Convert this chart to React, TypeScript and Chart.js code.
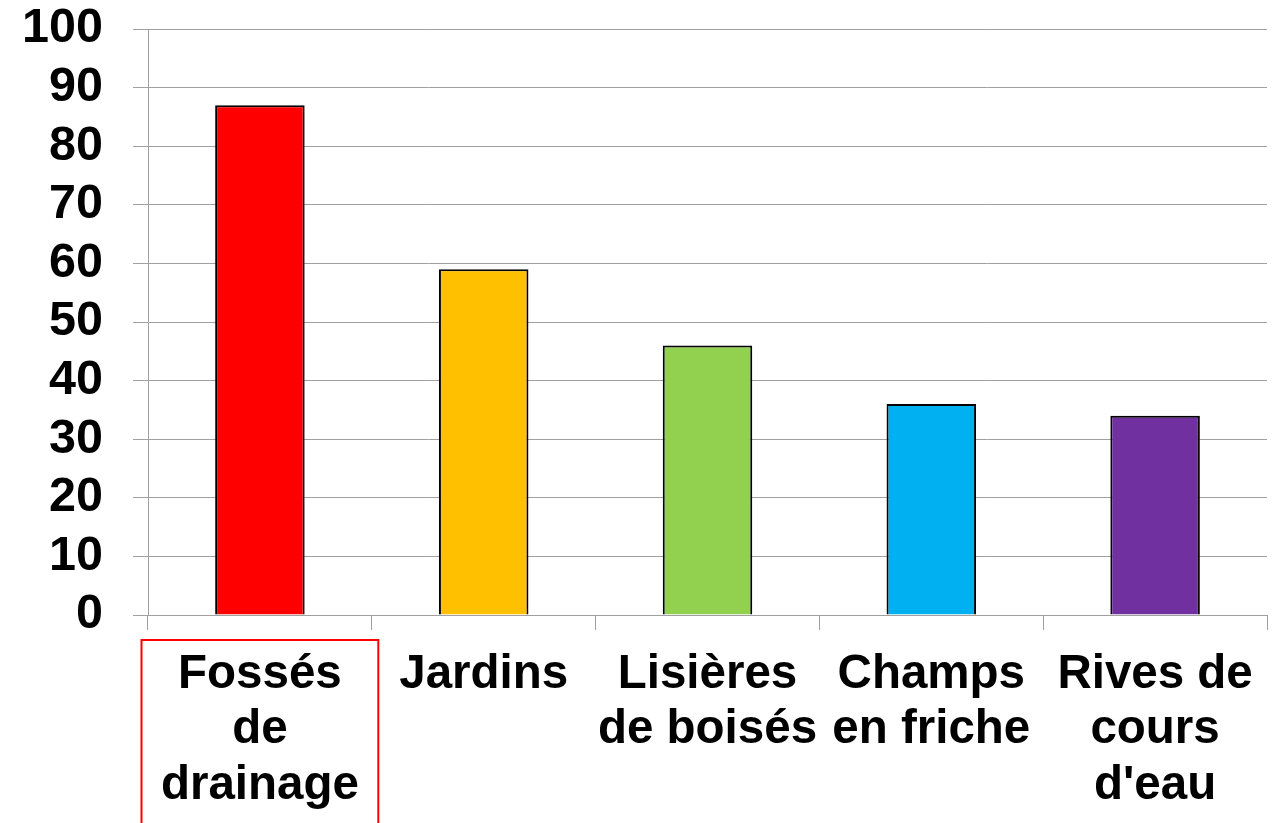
import React, { useEffect, useRef } from "react";
import { Chart, registerables } from "chart.js";

Chart.register(...registerables);

const categories: string[][] = [
  ["Fossés", "de", "drainage"],
  ["Jardins"],
  ["Lisières", "de boisés"],
  ["Champs", "en friche"],
  ["Rives de", "cours", "d'eau"],
];
const values: number[] = [87, 59, 46, 36, 34];
const barColors: string[] = ["#FF0000", "#FFC000", "#92D050", "#00B0F0", "#7030A0"];
const yMin = 0;
const yMax = 100;
const yStep = 10;
const highlightedIndex = 0;

const FONT = "'Liberation Sans', Arial, sans-serif";

const highlightBox = {
  id: "highlightBox",
  afterDraw(chart: any) {
    const x = chart.scales.x;
    const n = chart.data.labels.length;
    const catW = (x.right - x.left) / n;
    const cx = x.getPixelForValue(highlightedIndex);
    const ctx = chart.ctx;
    ctx.save();
    ctx.strokeStyle = "#FF0000";
    ctx.lineWidth = 2;
    const left = cx - catW / 2 - 6.5;
    const top = x.top + 25;
    ctx.strokeRect(left, top, catW + 13, chart.height + 10 - top);
    ctx.restore();
  },
};

export default function App() {
  const ref = useRef<HTMLCanvasElement | null>(null);
  useEffect(() => {
    if (!ref.current) return;
    const chart = new Chart(ref.current, {
      type: "bar",
      data: {
        labels: categories,
        datasets: [
          {
            data: values,
            backgroundColor: barColors,
            borderColor: "#000000",
            borderWidth: 2,
            barPercentage: 0.4,
            categoryPercentage: 1,
          },
        ],
      },
      options: {
        responsive: false,
        animation: false,
        devicePixelRatio: 1,
        layout: { padding: { top: 29, right: 14, left: 0, bottom: 0 } },
        plugins: {
          legend: { display: false },
          tooltip: { enabled: false },
        },
        scales: {
          x: {
            offset: true,
            grid: {
              display: true,
              drawOnChartArea: false,
              drawTicks: true,
              tickLength: 15,
              color: "#A0A0A0",
              lineWidth: 1,
              offset: true,
            },
            border: { display: true, color: "#A0A0A0", width: 1 },
            ticks: {
              color: "#000000",
              font: { family: FONT, size: 47.5, weight: "bold", lineHeight: 1.17 },
              padding: 17,
              maxRotation: 0,
              autoSkip: false,
            },
            afterFit(scale: any) {
              scale.height = 208;
            },
          },
          y: {
            min: yMin,
            max: yMax,
            grid: {
              color: "#A0A0A0",
              lineWidth: 1,
              drawTicks: true,
              tickLength: 15,
            },
            border: { display: true, color: "#A0A0A0", width: 1 },
            ticks: {
              stepSize: yStep,
              autoSkip: false,
              color: "#000000",
              font: { family: FONT, size: 48.5, weight: "bold" },
              padding: 30,
            },
            afterFit(scale: any) {
              scale.width = 148;
              scale.paddingTop = 0;
              scale.paddingBottom = 0;
            },
          },
        },
      },
      plugins: [highlightBox],
    });
    return () => chart.destroy();
  }, []);
  return (
    <div style={{ position: "absolute", left: 0, top: 0, width: 1281, height: 823, background: "#FFFFFF" }}>
      <canvas ref={ref} width={1281} height={823} style={{ display: "block" }} />
    </div>
  );
}
